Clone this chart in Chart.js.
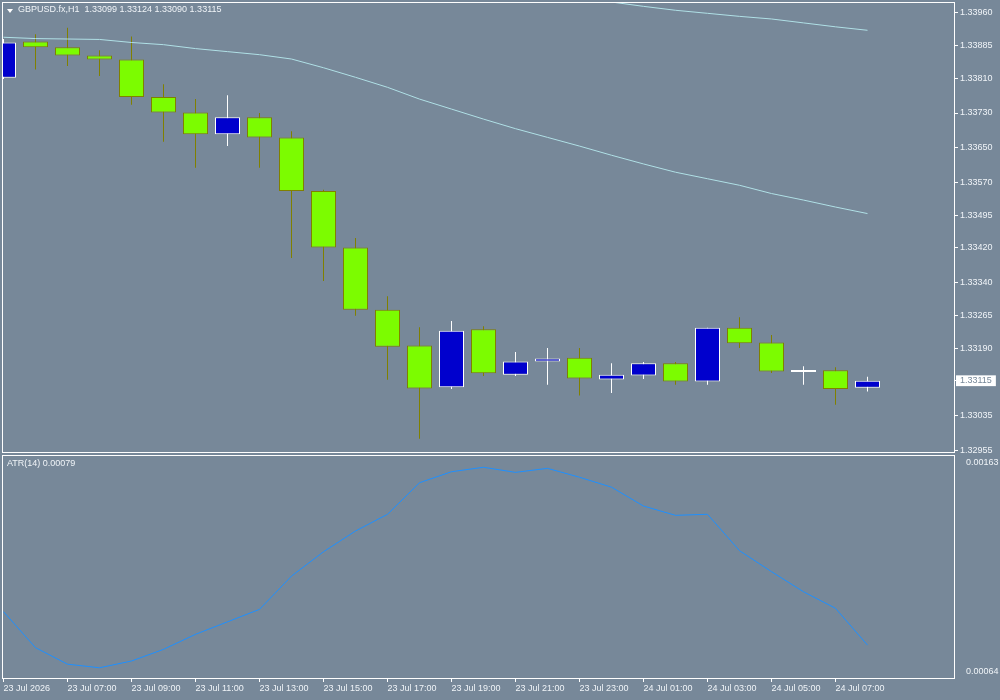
<!DOCTYPE html>
<html>
<head>
<meta charset="utf-8">
<script src="https://cdn.jsdelivr.net/npm/chart.js@4.4.1/dist/chart.umd.min.js"></script>
<style>
  html, body { margin: 0; padding: 0; background: #778899; }
  #wrap { position: relative; width: 1000px; height: 700px; overflow: hidden;
          font-family: "Liberation Sans", Arial, sans-serif; font-size: 9px; color: #f0f4f8; }
  canvas { position: absolute; left: 0; }
  #main { top: 0; }
  #atr { top: 453px; }
  .lbl { position: absolute; white-space: pre; line-height: 11px; }
  #title { left: 18px; top: 4px; }
  #atrTitle { left: 7px; top: 458px; }
  #tri { position: absolute; left: 7px; top: 9px; width: 0; height: 0;
         border-left: 3px solid transparent; border-right: 3px solid transparent; border-top: 4px solid #fff; }
</style>
</head>
<body>
<div id="wrap">
  <canvas id="main" width="1000" height="455"></canvas>
  <canvas id="atr" width="1000" height="247"></canvas>
  <div id="tri"></div>
  <div id="title" class="lbl">GBPUSD.fx,H1  1.33099 1.33124 1.33090 1.33115</div>
  <div id="atrTitle" class="lbl">ATR(14) 0.00079</div>
</div>
<script>
// H1 candles, 23 Jul 05:00 .. 24 Jul 08:00
const OPEN  = [1.33811, 1.33894, 1.33881, 1.33862, 1.33853, 1.33767, 1.33731, 1.33681, 1.33720, 1.33674,
               1.33551, 1.33421, 1.33278, 1.33196, 1.33100, 1.33233, 1.33129, 1.33159, 1.33168, 1.33118,
               1.33127, 1.33155, 1.33113, 1.33237, 1.33203, 1.33135, 1.33139, 1.33099];
const HIGH  = [1.33900, 1.33911, 1.33926, 1.33874, 1.33906, 1.33796, 1.33762, 1.33771, 1.33730, 1.33688,
               1.33554, 1.33443, 1.33309, 1.33238, 1.33252, 1.33240, 1.33181, 1.33190, 1.33190, 1.33155,
               1.33158, 1.33158, 1.33237, 1.33261, 1.33220, 1.33148, 1.33146, 1.33124];
const LOW   = [1.33808, 1.33830, 1.33838, 1.33815, 1.33749, 1.33664, 1.33604, 1.33654, 1.33604, 1.33397,
               1.33344, 1.33264, 1.33117, 1.32982, 1.33096, 1.33126, 1.33126, 1.33106, 1.33081, 1.33087,
               1.33119, 1.33106, 1.33106, 1.33190, 1.33133, 1.33106, 1.33060, 1.33090];
const CLOSE = [1.33892, 1.33881, 1.33862, 1.33853, 1.33767, 1.33731, 1.33681, 1.33720, 1.33674, 1.33551,
               1.33421, 1.33278, 1.33193, 1.33097, 1.33230, 1.33132, 1.33159, 1.33166, 1.33120, 1.33129,
               1.33155, 1.33113, 1.33237, 1.33201, 1.33136, 1.33135, 1.33096, 1.33115];

// moving averages
const MA_FAST = [1.33904, 1.33901, 1.33900, 1.33899, 1.33892, 1.33887, 1.33878, 1.33871, 1.33864, 1.33854,
                 1.33834, 1.33812, 1.33789, 1.33762, 1.33739, 1.33716, 1.33694, 1.33674, 1.33654, 1.33633,
                 1.33613, 1.33594, 1.33579, 1.33564, 1.33545, 1.33530, 1.33514, 1.33499];
const MA_SLOW = [null, null, null, null, null, null, null, null, null, null,
                 null, null, null, null, null, null, null, null, null, 1.33985,
                 1.33975, 1.33966, 1.33959, 1.33952, 1.33946, 1.33937, 1.33928, 1.33920];

const ATR = [0.000948, 0.000778, 0.000700, 0.000683, 0.000715, 0.000770, 0.000841, 0.000900, 0.000959, 0.001116,
             0.001231, 0.001329, 0.001408, 0.001557, 0.001609, 0.001630, 0.001606, 0.001625, 0.001583, 0.001536,
             0.001447, 0.001403, 0.001408, 0.001236, 0.001137, 0.001042, 0.000964, 0.000790];

const PRICE_TICKS = [1.33960, 1.33885, 1.33810, 1.33730, 1.33650, 1.33570, 1.33495, 1.33420, 1.33340,
                     1.33265, 1.33190, 1.33115, 1.33035, 1.32955];
const ATR_TICKS = [0.00163, 0.00064];
const TIME_LABELS = ["23 Jul 2026", "23 Jul 07:00", "23 Jul 09:00", "23 Jul 11:00", "23 Jul 13:00",
                     "23 Jul 15:00", "23 Jul 17:00", "23 Jul 19:00", "23 Jul 21:00", "23 Jul 23:00",
                     "24 Jul 01:00", "24 Jul 03:00", "24 Jul 05:00", "24 Jul 07:00"];
const BID = 1.33115;

// axis ranges
const X_MIN = -0.046875, X_MAX = 29.703125;
const PRICE_MIN = 1.32949, PRICE_MAX = 1.33985;
const ATR_MIN = 0.000630, ATR_MAX = 0.001688;

const BG = "#778899";
const TEXT = "#f0f4f8";
const BULL = "#0000cd", BEAR = "#7cfc00", BEAR_LINE = "#808000";
const FONT = { family: "'Liberation Sans', Arial, sans-serif", size: 9 };

const isUp = i => CLOSE[i] >= OPEN[i];
const isBid = v => Math.abs(v - BID) < 1e-7;

// fixed axis sizes, no extra room for the end labels
function fixSize(w, h) {
  return s => {
    if (w) s.width = w;
    if (h) s.height = h;
    s.paddingTop = 0; s.paddingBottom = 0; s.paddingLeft = 0; s.paddingRight = 0;
  };
}

// white frame round the plot area
const framePlugin = {
  id: "frame",
  afterDraw(chart) {
    const { ctx, chartArea: a } = chart;
    ctx.save();
    ctx.strokeStyle = "#ffffff";
    ctx.lineWidth = 1;
    ctx.strokeRect(a.left + 0.5, a.top + 0.5, a.right - a.left, a.bottom - a.top - 1);
    ctx.restore();
  }
};

new Chart(document.getElementById("main"), {
  type: "bar",
  data: {
    datasets: [
      {
        type: "line",
        data: MA_SLOW.map((v, i) => ({ x: i, y: v })),
        borderColor: "#b0e0e6", borderWidth: 1, pointRadius: 0
      },
      {
        type: "line",
        data: MA_FAST.map((v, i) => ({ x: i, y: v })),
        borderColor: "#b0e0e6", borderWidth: 1, pointRadius: 0
      },
      {
        data: OPEN.map((o, i) => ({ x: i, y: [o, CLOSE[i]] })),
        backgroundColor: c => isUp(c.dataIndex) ? BULL : BEAR,
        borderColor: c => isUp(c.dataIndex) ? "#ffffff" : BEAR_LINE,
        borderWidth: 1, borderSkipped: false, grouped: false,
        barPercentage: 1, categoryPercentage: 1, maxBarThickness: 25,
        minBarLength: 2, inflateAmount: 0
      },
      {
        data: HIGH.map((h, i) => ({ x: i, y: [LOW[i], h] })),
        backgroundColor: c => isUp(c.dataIndex) ? "#ffffff" : BEAR_LINE,
        borderWidth: 0, grouped: false,
        barPercentage: 1, categoryPercentage: 1, maxBarThickness: 1, inflateAmount: 0
      }
    ]
  },
  options: {
    responsive: false, animation: false, devicePixelRatio: 1, events: [],
    layout: { padding: { left: 2, top: 2, right: 0, bottom: 2 } },
    plugins: { legend: { display: false }, tooltip: { enabled: false } },
    scales: {
      x: { type: "linear", min: X_MIN, max: X_MAX, offset: false, display: false },
      y: {
        position: "right", min: PRICE_MIN, max: PRICE_MAX,
        afterFit: fixSize(46, 0),
        afterBuildTicks: s => { s.ticks = PRICE_TICKS.map(v => ({ value: v })); },
        grid: { drawOnChartArea: false, drawTicks: true, tickLength: 4, color: "#ffffff" },
        border: { display: false },
        ticks: {
          padding: 2, font: FONT,
          color: c => isBid(c.tick.value) ? BG : TEXT,
          showLabelBackdrop: c => isBid(c.tick.value),
          backdropColor: "#ffffff",
          backdropPadding: { left: 4, right: 4, top: 0, bottom: 0 },
          callback: v => v.toFixed(5)
        }
      }
    }
  },
  plugins: [framePlugin]
});

new Chart(document.getElementById("atr"), {
  type: "line",
  data: {
    datasets: [{
      data: ATR.map((v, i) => ({ x: i, y: v })),
      borderColor: "#1e90ff", borderWidth: 1, pointRadius: 0
    }]
  },
  options: {
    responsive: false, animation: false, devicePixelRatio: 1, events: [],
    layout: { padding: { left: 2, top: 2, right: 0, bottom: 0 } },
    plugins: { legend: { display: false }, tooltip: { enabled: false } },
    scales: {
      x: {
        type: "linear", min: X_MIN, max: X_MAX, offset: false,
        afterFit: fixSize(0, 21),
        afterBuildTicks: s => { s.ticks = TIME_LABELS.map((_, i) => ({ value: i * 2 })); },
        grid: { drawOnChartArea: false, drawTicks: true, tickLength: 3, color: "#ffffff" },
        border: { display: false },
        ticks: {
          align: "start", maxRotation: 0, autoSkip: false, padding: 1,
          color: TEXT, font: FONT,
          callback: (v, i) => TIME_LABELS[i]
        }
      },
      y: {
        position: "right", min: ATR_MIN, max: ATR_MAX,
        afterFit: fixSize(46, 0),
        afterBuildTicks: s => { s.ticks = ATR_TICKS.map(v => ({ value: v })); },
        grid: { display: false },
        border: { display: false },
        ticks: { padding: 4, labelOffset: -5, color: TEXT, font: FONT, callback: v => v.toFixed(5) }
      }
    }
  },
  plugins: [framePlugin]
});
</script>
</body>
</html>
